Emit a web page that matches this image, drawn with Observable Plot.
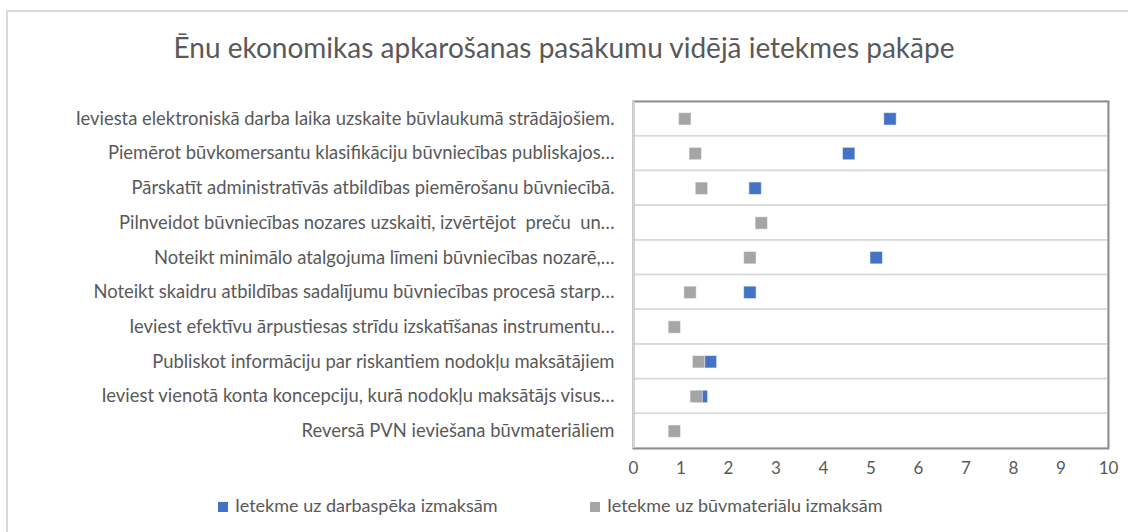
<!DOCTYPE html>
<html><head><meta charset="utf-8">
<script src="https://cdn.jsdelivr.net/npm/d3@7"></script>
<script src="https://cdn.jsdelivr.net/npm/@observablehq/plot@0.6"></script>
<style>
body{margin:0;background:#fff;font-family:Lato,sans-serif;}
#wrap{position:relative;width:1128px;height:532px;overflow:hidden;background:#fff}
#border{position:absolute;left:6px;top:10px;width:1200px;height:600px;border:2px solid #d9d9d9;box-sizing:border-box}
#title{position:absolute;top:0;left:0;width:1128px;height:94px;line-height:94px;text-align:center;font-size:28px;color:#595959;white-space:nowrap}
#chart{position:absolute;top:90px;left:0}
#legend{position:absolute;top:490px;left:0;width:1128px;height:30px;font-size:18px;color:#595959}
.item{position:absolute;top:0;height:30px;line-height:30px;white-space:nowrap}
.sw{display:inline-block;width:10px;height:10px;margin-right:7px;vertical-align:0px}
</style></head>
<body>
<div id="wrap">
<div id="border"></div>
<div id="title">Ēnu ekonomikas apkarošanas pasākumu vidējā ietekmes pakāpe</div>
<div id="chart"></div>
<div id="legend"></div>
</div>
<script>
const categories = [
  "Ieviesta elektroniskā darba laika uzskaite būvlaukumā strādājošiem.",
  "Piemērot būvkomersantu klasifikāciju būvniecības publiskajos…",
  "Pārskatīt administratīvās atbildības piemērošanu būvniecībā.",
  "Pilnveidot būvniecības nozares uzskaiti, izvērtējot  preču  un…",
  "Noteikt minimālo atalgojuma līmeni būvniecības nozarē,…",
  "Noteikt skaidru atbildības sadalījumu būvniecības procesā starp…",
  "Ieviest efektīvu ārpustiesas strīdu izskatīšanas instrumentu…",
  "Publiskot informāciju par riskantiem nodokļu maksātājiem",
  "Ieviest vienotā konta koncepciju, kurā nodokļu maksātājs visus…",
  "Reversā PVN ieviešana būvmateriāliem"
];
const laborValues = [5.4, 4.53, 2.56, null, 5.11, 2.45, null, 1.62, 1.43, null];
const materialValues = [1.08, 1.3, 1.43, 2.69, 2.45, 1.19, 0.86, 1.37, 1.32, 0.86];
const xTicks = [0,1,2,3,4,5,6,7,8,9,10];
const seriesNames = ["Ietekme uz darbaspēka izmaksām", "Ietekme uz būvmateriālu izmaksām"];
const seriesColors = ["#4472c4", "#a5a5a5"];

const labor = categories.map((c,i)=>({cat:c, v:laborValues[i]})).filter(d=>d.v!=null);
const materials = categories.map((c,i)=>({cat:c, v:materialValues[i]})).filter(d=>d.v!=null);

const chart = Plot.plot({
  width:1128, height:400,
  marginLeft:633, marginRight:20, marginTop:11, marginBottom:42,
  style:{fontFamily:'Lato,sans-serif', fontSize:"18.4px", color:"#595959", background:"transparent", overflow:"visible"},
  x:{domain:[0,10], ticks:xTicks, tickSize:0, tickPadding:13, label:null, tickFormat:d=>String(d)},
  y:{domain:categories, padding:0, round:false, tickSize:0, tickPadding:19, label:null},
  marks:[
    Plot.barX(categories,{y:d=>d, x1:0, x2:10, fill:"none", stroke:"#d9d9d9", strokeWidth:1.5, inset:0}),
    Plot.frame({stroke:"#8f8f8f", strokeWidth:2}),
    Plot.ruleX([0],{stroke:"#d9d9d9", strokeWidth:2}),
    Plot.dot(labor,{x:"v", y:"cat", symbol:"square", r:7, fill:seriesColors[0], stroke:"#fff", strokeWidth:0.5}),
    Plot.dot(materials,{x:"v", y:"cat", symbol:"square", r:7, fill:seriesColors[1], stroke:"#fff", strokeWidth:0.5})
  ]
});
document.getElementById("chart").appendChild(chart);
d3.select(chart).selectAll('g[aria-label="x-axis tick label"], g[aria-label="x-axis"]').style("font-size","17px");

const legend = document.getElementById("legend");
const lefts = [218, 590];
seriesNames.forEach((n,i)=>{
  const it = document.createElement("div");
  it.className="item"; it.style.left=lefts[i]+"px";
  it.innerHTML = `<span class="sw" style="background:${seriesColors[i]}"></span>${n}`;
  legend.appendChild(it);
});
</script>
</body></html>
